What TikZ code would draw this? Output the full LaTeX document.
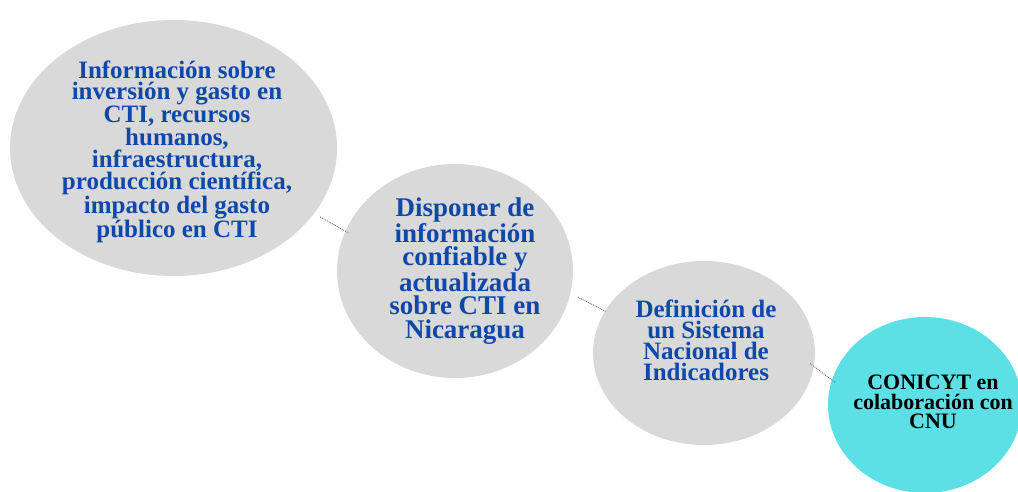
\documentclass[tikz,border=0pt]{standalone}
\usepackage{fontspec}
\setmainfont{Liberation Serif}
\usetikzlibrary{shapes.geometric}
\definecolor{bubblegray}{RGB}{217,217,217}
\definecolor{bubblecyan}{RGB}{92,224,230}
\definecolor{textblue}{RGB}{16,72,170}
\definecolor{linkgray}{RGB}{110,110,110}
\begin{document}
\begin{tikzpicture}[x=1pt,y=-1pt,
  bubble/.style={ellipse,draw=none,inner sep=0pt},
  graybubble/.style={bubble,fill=bubblegray},
  cyanbubble/.style={bubble,fill=bubblecyan},
  label/.style={align=center,font=\bfseries,text=textblue,inner sep=0pt},
  link/.style={draw=linkgray,line width=0.9pt,densely dotted}]
\useasboundingbox (0,0) rectangle (1018,492);
\begin{scope}
\clip (0,0) rectangle (1018,492);
\node[graybubble,minimum width=327pt,minimum height=256pt] (e1) at (173.5,148) {};
\node[graybubble,minimum width=236pt,minimum height=214pt] (e2) at (455,271) {};
\node[graybubble,minimum width=222pt,minimum height=184pt] (e3) at (704,353) {};
\node[cyanbubble,minimum width=194pt,minimum height=176pt] (e4) at (925,405) {};
\end{scope}
\draw[link,shorten <=7pt,shorten >=-4pt] (e1.-25) -- (e2.160);
\draw[link,shorten <=8pt,shorten >=-1.5pt] (e2.-11.5) -- (e3.157);
\draw[link,shorten <=-5pt,shorten >=-4pt] (e3.-7.7) -- (e4.165.5);
\node[label,font=\bfseries\fontsize{25}{21}\selectfont] (t1) at (177,152)
  {Información sobre\\inversión y gasto en\\CTI, recursos\\humanos,\\infraestructura,\\producción científica,\\impacto del gasto\\público en CTI};
\node[label,font=\bfseries\fontsize{27}{23.4}\selectfont] (t2) at (465,271)
  {Disponer de\\información\\confiable y\\actualizada\\sobre CTI en\\Nicaragua};
\node[label,font=\bfseries\fontsize{25}{21}\selectfont] (t3) at (706,340)
  {Definición de\\un Sistema\\Nacional de\\Indicadores};
\node[label,text=black,font=\bfseries\fontsize{22}{19.5}\selectfont] (t4) at (933,402)
  {CONICYT en\\colaboración con\\CNU};
\end{tikzpicture}
\end{document}
